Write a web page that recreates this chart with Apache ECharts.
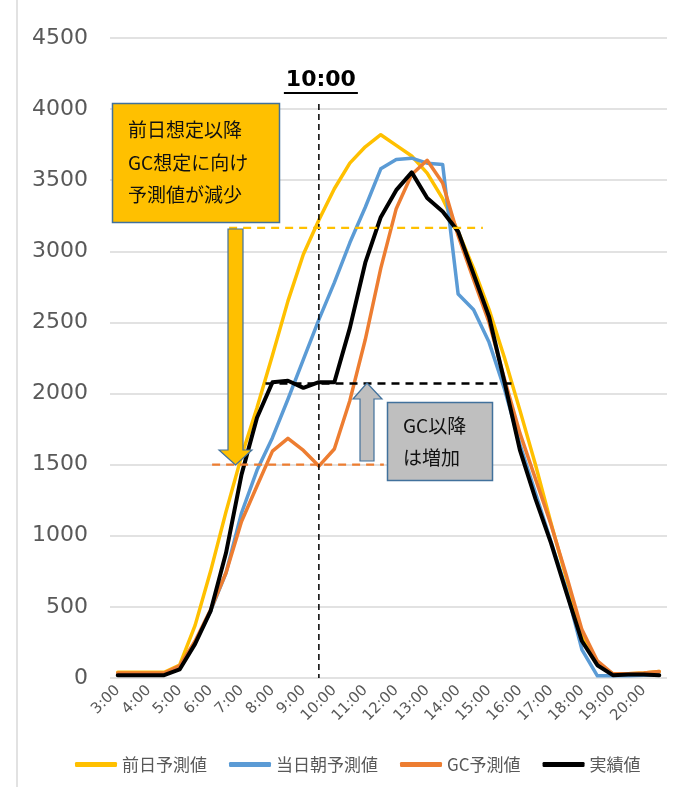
<!DOCTYPE html>
<html>
<head>
<meta charset="utf-8">
<script src="https://cdn.jsdelivr.net/npm/echarts@6/dist/echarts.min.js"></script>
<style>
html,body{margin:0;padding:0;background:#fff;}
#main{width:683px;height:787px;}
</style>
</head>
<body>
<div id="main"></div>
<script>
// ---- data ----
const categories = ['3:00','3:30','4:00','4:30','5:00','5:30','6:00','6:30','7:00','7:30','8:00','8:30','9:00','9:30','10:00','10:30','11:00','11:30','12:00','12:30','13:00','13:30','14:00','14:30','15:00','15:30','16:00','16:30','17:00','17:30','18:00','18:30','19:00','19:30','20:00','20:30'];
const seriesNames = ['前日予測値','当日朝予測値','GC予測値','実績値'];
const prevDayForecast = [40,40,40,40,90,370,750,1170,1560,1900,2270,2650,2980,3220,3440,3620,3735,3820,3745,3670,3550,3370,3140,2880,2590,2250,1880,1500,1090,700,310,100,30,30,35,45];
const morningForecast = [30,30,30,30,70,250,470,740,1160,1460,1690,1960,2240,2520,2780,3060,3310,3580,3645,3655,3620,3610,2700,2590,2360,2030,1640,1300,960,620,200,15,15,15,20,20];
const gcForecast = [35,35,35,35,85,260,480,740,1100,1350,1595,1685,1600,1490,1610,1950,2380,2880,3300,3540,3640,3480,3110,2800,2500,2100,1720,1400,1080,720,340,120,30,30,35,45];
const actual = [20,20,20,20,60,240,470,880,1430,1830,2080,2090,2040,2080,2080,2460,2920,3240,3430,3555,3375,3280,3140,2840,2540,2080,1600,1260,950,600,260,90,20,25,25,20];
const yTicks = {min:0, max:4500, interval:500};

// annotation content (in data terms)
const markerTitle = '10:00';
const markerIndex = 13;
const guideLevels = [3165, 1500, 2070];        // yellow / orange / black guides
const guideFrom   = [7.2, 6.1, 9.55];
const guideTo     = [23.6, 17.2, 25.8];
const boxText1 = ['前日想定以降','GC想定に向け','予測値が減少'];
const boxText2 = ['GC以降','は増加'];

const C_Y = '#FFC000', C_B = '#5B9BD5', C_O = '#ED7D31', C_K = '#000000';
const FONT_JP = '"Noto Sans CJK JP", "Noto Sans", sans-serif';

const chart = echarts.init(document.getElementById('main'));
const mk = (name, data, color, w) => ({
  name, type:'line', data, symbol:'none', smooth:false, animation:false,
  lineStyle:{color, width:w, cap:'round', join:'round'}, itemStyle:{color}
});
chart.setOption({
  animation:false,
  backgroundColor:'#ffffff',
  grid:{left:110, right:16, top:38, bottom:109, containLabel:false},
  xAxis:{
    type:'category', data:categories, boundaryGap:true,
    axisLine:{show:false}, axisTick:{show:false},
    axisLabel:{interval:1, rotate:45, fontSize:15, color:'#595959', fontFamily:'DejaVu Sans', margin:10}
  },
  yAxis:{
    type:'value', min:yTicks.min, max:yTicks.max, interval:yTicks.interval,
    axisLine:{show:false}, axisTick:{show:false},
    axisLabel:{fontSize:22, color:'#595959', fontFamily:'DejaVu Sans', margin:22, formatter: v => String(v)},
    splitLine:{lineStyle:{color:'#d9d9d9', width:1.5}}
  },
  legend:{
    data:seriesNames, left:70, top:751, icon:'roundRect', itemWidth:42, itemHeight:5, itemGap:22,
    textStyle:{fontSize:17, color:'#595959', fontFamily:FONT_JP}
  },
  series:[
    mk(seriesNames[0], prevDayForecast, C_Y, 3.5),
    mk(seriesNames[1], morningForecast, C_B, 3.5),
    mk(seriesNames[2], gcForecast, C_O, 3.5),
    mk(seriesNames[3], actual, C_K, 4)
  ]
});

// ---- annotations positioned through the axes ----
const p0 = chart.convertToPixel({gridIndex:0}, [0, 0]);
const p1 = chart.convertToPixel({gridIndex:0}, [1, 0]);
const step = p1[0] - p0[0];
const X = i => p0[0] + i * step;
const Y = v => chart.convertToPixel({gridIndex:0}, [0, v])[1];
const BORDER = '#41719C';
const g = [];
// outer left border
g.push({type:'line', shape:{x1:17,y1:0,x2:17,y2:787}, style:{stroke:'#d9d9d9', lineWidth:1.5}, z:1});
// vertical marker
const vx = X(markerIndex);
g.push({type:'line', shape:{x1:vx,y1:104,x2:vx,y2:Y(0)}, style:{stroke:'#000', lineWidth:1.5, lineDash:[6,4]}, z:5});
g.push({type:'text', x:vx+2, y:80, style:{text:markerTitle, fontSize:22, fontWeight:'bold', fontFamily:'DejaVu Sans', fill:'#000', align:'center', verticalAlign:'middle'}, z:6});
g.push({type:'line', shape:{x1:vx-35,y1:93,x2:vx+39,y2:93}, style:{stroke:'#000', lineWidth:2}, z:6});
// guides
const guideColors = [C_Y, C_O, C_K];
guideLevels.forEach((v, k) => {
  g.push({type:'line', shape:{x1:X(guideFrom[k]), y1:Y(v), x2:X(guideTo[k]), y2:Y(v)},
    style:{stroke:guideColors[k], lineWidth:k===2?2.5:2.2, lineDash:[8,6]}, z:5});
});
// yellow box
g.push({type:'rect', shape:{x:112.5,y:103.5,width:167,height:119}, style:{fill:C_Y, stroke:BORDER, lineWidth:1.5}, z:7});
boxText1.forEach((t, k) => g.push({type:'text', x:128, y:130 + k*32.5,
  style:{text:t, fontSize:19, fontFamily:FONT_JP, fill:'#111', align:'left', verticalAlign:'middle'}, z:8}));
// yellow down arrow
g.push({type:'polygon', shape:{points:[[228,229],[243,229],[243,450],[252,450],[235.5,465],[219,450],[228,450]]},
  style:{fill:C_Y, stroke:BORDER, lineWidth:1.2}, z:7});
// gray up arrow
g.push({type:'polygon', shape:{points:[[367,383],[382,399],[374,399],[374,461],[360,461],[360,399],[353,399]]},
  style:{fill:'#BFBFBF', stroke:BORDER, lineWidth:1.2}, z:7});
// gray box
g.push({type:'rect', shape:{x:387.5,y:402.5,width:105,height:78}, style:{fill:'#BFBFBF', stroke:BORDER, lineWidth:1.5}, z:7});
boxText2.forEach((t, k) => g.push({type:'text', x:403, y:426 + k*32,
  style:{text:t, fontSize:19, fontFamily:FONT_JP, fill:'#111', align:'left', verticalAlign:'middle'}, z:8}));
chart.setOption({graphic:g});
</script>
</body>
</html>
